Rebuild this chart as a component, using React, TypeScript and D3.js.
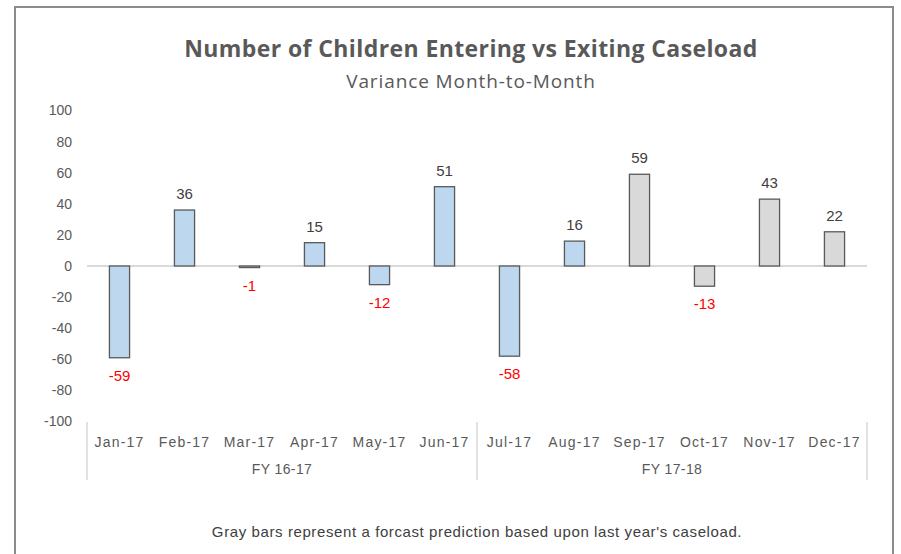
import React from 'react';
import * as d3 from 'd3';

const months = ['Jan-17', 'Feb-17', 'Mar-17', 'Apr-17', 'May-17', 'Jun-17',
  'Jul-17', 'Aug-17', 'Sep-17', 'Oct-17', 'Nov-17', 'Dec-17'];
const variance = [-59, 36, -1, 15, -12, 51, -58, 16, 59, -13, 43, 22];
const forecast = [false, false, false, false, false, false, false, false, true, true, true, true];
const fiscalYears = ['FY 16-17', 'FY 17-18'];
const yTicks = [100, 80, 60, 40, 20, 0, -20, -40, -60, -80, -100];

const W = 901;
const H = 554;
const left = 87;
const right = 867;

export default function App() {
  // scales
  const x = d3.scaleBand<string>()
    .domain(months)
    .range([left, right])
    .paddingInner(0.69)
    .paddingOuter(0.345);
  const y = d3.scaleLinear().domain([-100, 100]).range([421.5, 110.5]);
  const step = x.step();
  const font = 'Liberation Sans, Arial, sans-serif';

  return (
    <svg width={W} height={H} style={{ position: 'absolute', left: 0, top: 0 }}>
      <rect x={0} y={0} width={W} height={H} fill="#fff" />
      <rect x={15} y={7} width={878} height={600} fill="#fff" stroke="#8c8c8c" strokeWidth={2} />

      {/* titles */}
      <text x={471} y={57} textAnchor="middle" fontFamily="Open Sans, sans-serif" fontWeight="bold"
        fontSize={23} letterSpacing={0.4} fill="#595959">Number of Children Entering vs Exiting Caseload</text>
      <text x={471} y={88} textAnchor="middle" fontFamily="Open Sans, sans-serif"
        fontSize={19} letterSpacing={0.9} fill="#595959">Variance Month-to-Month</text>

      {/* y axis labels */}
      {yTicks.map(t => (
        <text key={t} x={72} y={y(t)} dy="0.35em" textAnchor="end" fontFamily={font}
          fontSize={14} fill="#595959">{t}</text>
      ))}

      {/* zero line */}
      <line x1={left} x2={right} y1={y(0)} y2={y(0)} stroke="#d9d9d9" strokeWidth={2} />

      {/* bars */}
      {variance.map((v, i) => {
        const m = months[i];
        const y0 = Math.min(y(0), y(v));
        const h = Math.max(Math.abs(y(v) - y(0)), 1);
        return (
          <rect key={m} x={x(m)} y={y0} width={x.bandwidth()} height={h}
            fill={forecast[i] ? '#d9d9d9' : '#bdd7ee'} stroke="#595959" strokeWidth={1.3} />
        );
      })}

      {/* data labels */}
      {variance.map((v, i) => {
        const m = months[i];
        const cx = (x(m) as number) + x.bandwidth() / 2;
        return v >= 0 ? (
          <text key={m} x={cx} y={y(v) - 11} textAnchor="middle" fontFamily={font}
            fontSize={15} fill="#404040">{v}</text>
        ) : (
          <text key={m} x={cx} y={Math.max(y(v), y(0) + 2) + 23} textAnchor="middle" fontFamily={font}
            fontSize={15} fill="#ff0000">{v}</text>
        );
      })}

      {/* month labels */}
      {months.map(m => (
        <text key={m} x={(x(m) as number) + x.bandwidth() / 2} y={447} textAnchor="middle"
          fontFamily={font} fontSize={14} letterSpacing={1.2} fill="#595959">{m}</text>
      ))}

      {/* fiscal year groups */}
      {[0, 6, 12].map(k => (
        <line key={k} x1={left + k * step} x2={left + k * step} y1={422} y2={480}
          stroke="#d9d9d9" strokeWidth={1.5} />
      ))}
      {fiscalYears.map((fy, g) => (
        <text key={fy} x={left + (g * 6 + 3) * step} y={474} textAnchor="middle"
          fontFamily={font} fontSize={14} letterSpacing={0.4} fill="#595959">{fy}</text>
      ))}

      {/* footnote */}
      <text x={477} y={537} textAnchor="middle" fontFamily={font} fontSize={15} letterSpacing={0.6}
        fill="#404040">Gray bars represent a forcast prediction based upon last year's caseload.</text>
    </svg>
  );
}
